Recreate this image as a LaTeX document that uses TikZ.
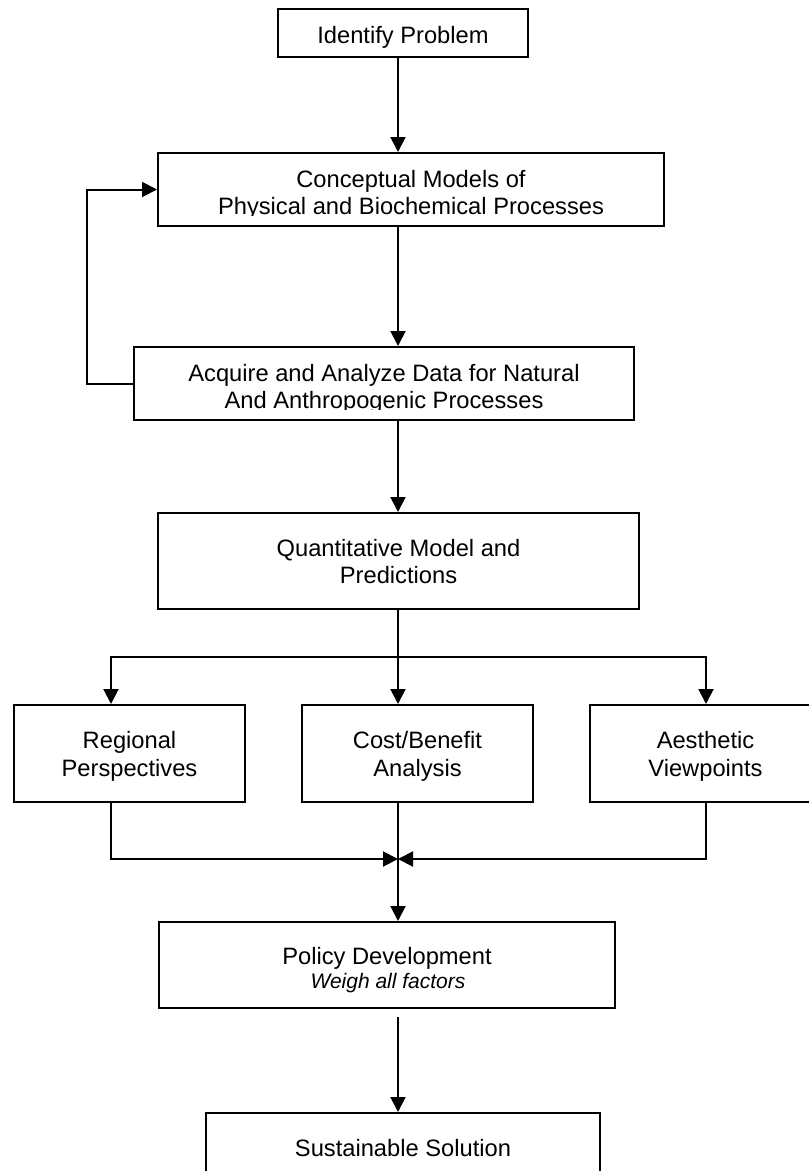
\documentclass[tikz,border=0pt]{standalone}
\usepackage{fontspec}
\setmainfont{Liberation Sans}
\usetikzlibrary{arrows.meta}
\begin{document}
\begin{tikzpicture}[x=1pt,y=-1pt,
  box/.style={draw, line width=2pt, rectangle, inner sep=0pt},
  conn/.style={line width=2pt},
  arr/.style={conn, -{Triangle[length=15pt,width=15pt]}},
  lbl/.style={inner sep=0pt, anchor=base, font=\fontsize{23.7}{28}\selectfont},
  ilbl/.style={inner sep=0pt, anchor=base, font=\fontsize{21}{25}\selectfont\itshape}]
\useasboundingbox (0,0) rectangle (809,1171);
\coordinate (spine) at (398,0);
\coordinate (fb) at (87,0);
\coordinate (rx) at (111,0);
\coordinate (ax) at (706,0);
\coordinate (branch) at (398,657);
\coordinate (merge) at (398,859);
\coordinate (pstart) at (398,1017);

% boxes
\node[box, minimum width=250pt, minimum height=48pt] (identify) at (403,33) {};
\node[box, minimum width=506pt, minimum height=73pt] (concept) at (411,189.5) {};
\node[box, minimum width=500pt, minimum height=73pt] (acquire) at (384,383.5) {};
\node[box, minimum width=481pt, minimum height=96pt] (quant) at (398.5,561) {};
\node[box, minimum width=231pt, minimum height=97pt] (regional) at (129.5,753.5) {};
\node[box, minimum width=231pt, minimum height=97pt] (cost) at (417.5,753.5) {};
\node[box, minimum width=231pt, minimum height=97pt] (aesthetic) at (705.5,753.5) {};
\node[box, minimum width=456pt, minimum height=86pt] (policy) at (387,965) {};
\node[box, minimum width=394pt, minimum height=120pt] (sustain) at (403,1173) {};

% labels
\node[lbl] (t1) at (403,43.5) {Identify Problem};
\node[lbl] (t2a) at (411,187) {Conceptual Models of};
\begin{scope}
  \clip (158,153) rectangle (664,215);
  \node[lbl] (t2b) at (411,214) {Physical and Biochemical Processes};
\end{scope}
\node[lbl] (t3a) at (384,381) {Acquire and Analyze Data for Natural};
\begin{scope}
  \clip (134,347) rectangle (634,409);
  \node[lbl] (t3b) at (384,408) {And Anthropogenic Processes};
\end{scope}
\node[lbl] (t4a) at (398.5,556) {Quantitative Model and};
\node[lbl] (t4b) at (398.5,583) {Predictions};
\node[lbl] (t5a) at (129.5,748) {Regional};
\node[lbl] (t5b) at (129.5,776) {Perspectives};
\node[lbl] (t6a) at (417.5,748) {Cost/Benefit};
\node[lbl] (t6b) at (417.5,776) {Analysis};
\node[lbl] (t7a) at (705.5,748) {Aesthetic};
\node[lbl] (t7b) at (705.5,776) {Viewpoints};
\node[lbl] (t8a) at (387,964) {Policy Development};
\node[ilbl] (t8b) at (388,988) {Weigh all factors};
\node[lbl] (t9) at (403,1156) {Sustainable Solution};

% connectors
\draw[arr] (identify.south -| spine) -- (concept.north -| spine);
\draw[arr] (concept.south -| spine) -- (acquire.north -| spine);
\draw[arr] (acquire.south -| spine) -- (quant.north -| spine);
\draw[arr] (acquire.west) -- (acquire.west -| fb) -- (concept.west -| fb) -- (concept.west);
\draw[conn] (quant.south -| spine) -- (branch);
\draw[arr] (branch) -- (cost.north -| spine);
\draw[arr] (branch) -- (branch -| rx) -- (regional.north -| rx);
\draw[arr] (branch) -- (branch -| ax) -- (aesthetic.north -| ax);
\draw[arr] (regional.south -| rx) -- (rx |- merge) -- (merge);
\draw[arr] (aesthetic.south -| ax) -- (ax |- merge) -- (merge);
\draw[arr] (cost.south -| spine) -- (policy.north -| spine);
\draw[arr] (pstart) -- (sustain.north -| spine);
\end{tikzpicture}
\end{document}
